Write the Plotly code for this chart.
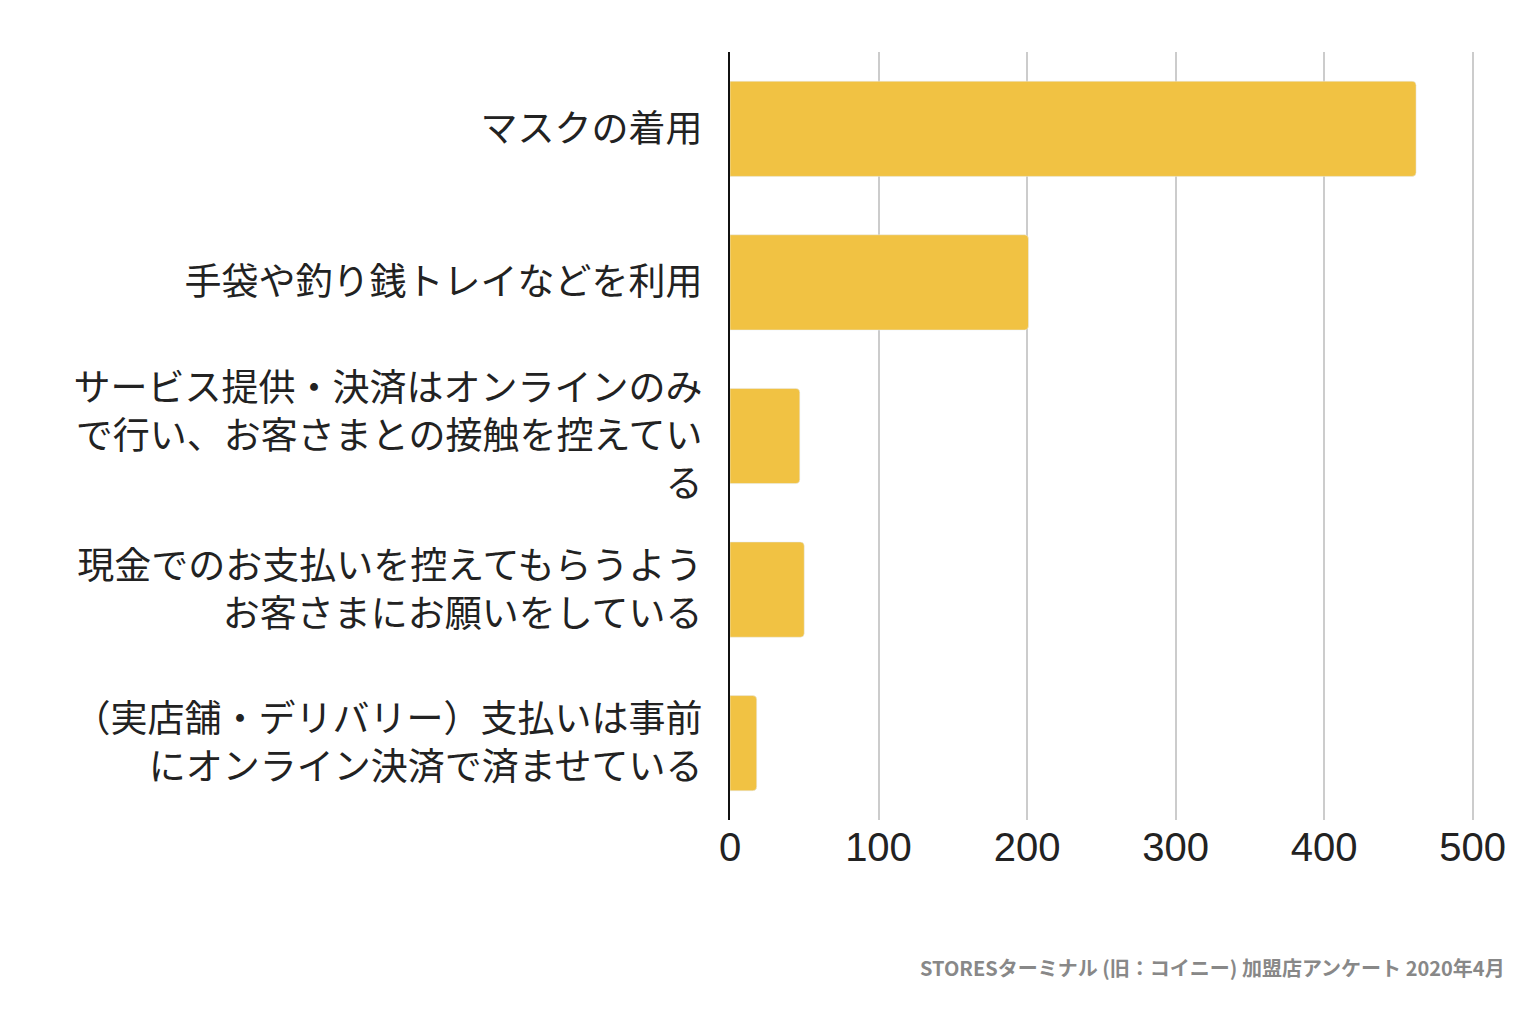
import plotly.graph_objects as go

categories = [
    "マスクの着用",
    "手袋や釣り銭トレイなどを利用",
    "サービス提供・決済はオンラインのみ<br>で行い、お客さまとの接触を控えてい<br>る",
    "現金でのお支払いを控えてもらうよう<br>お客さまにお願いをしている",
    "（実店舗・デリバリー）支払いは事前<br>にオンライン決済で済ませている",
]
values = [462, 201, 47, 50, 18]
tick_vals = [0, 100, 200, 300, 400, 500]

fig = go.Figure(go.Bar(
    x=values, y=categories, orientation="h",
    marker=dict(color="#F1C243", cornerradius=4),
    width=0.62,
))

fig.update_layout(
    width=1534, height=1028,
    margin=dict(l=722, r=68, t=44, b=216),
    plot_bgcolor="white", paper_bgcolor="white",
    font=dict(family="Noto Sans CJK JP", color="#222"),
    showlegend=False,
    xaxis=dict(range=[0, 501], tickvals=tick_vals, showgrid=True,
               gridcolor="#cccccc", gridwidth=2, zeroline=False,
               tickfont=dict(size=40, family="Liberation Sans"), ticks="", ticklen=0),
    yaxis=dict(autorange="reversed", showline=True, linecolor="#111", linewidth=2,
               tickfont=dict(size=37), ticks="", ticklabelstandoff=18),
    annotations=[dict(
        text="<b>STORESターミナル (旧：コイニー) 加盟店アンケート 2020年4月</b>",
        xref="paper", yref="paper", x=1.045, y=-0.17, xanchor="right", yanchor="top",
        showarrow=False, font=dict(size=20, color="#888"),
    )],
)

fig.write_html("out.html")
